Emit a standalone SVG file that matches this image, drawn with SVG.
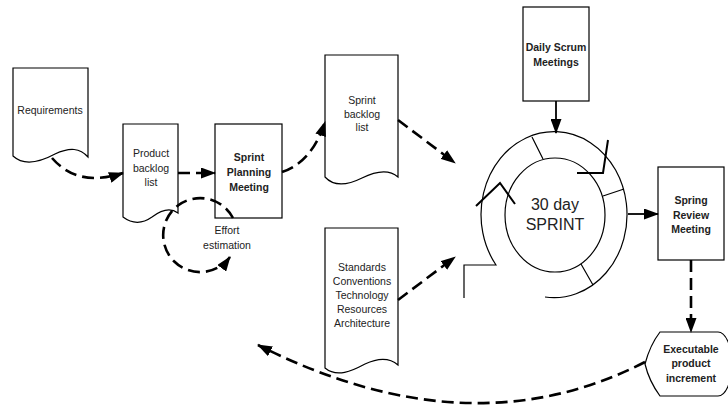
<svg xmlns="http://www.w3.org/2000/svg" width="728" height="407" viewBox="0 0 728 407">
<defs>
<style>
.shape{fill:#fff;stroke:#000;stroke-width:1.2}
.t{font-family:"Liberation Sans",Arial,sans-serif;font-size:10.5px;text-anchor:middle;fill:#222}
.b{font-weight:bold}
.big{font-size:16px}
.dash{fill:none;stroke:#000;stroke-width:2.6;stroke-dasharray:12 6}
.solid{fill:none;stroke:#000;stroke-width:1.8}
.ring{fill:none;stroke:#000;stroke-width:1.2}
.zig{fill:none;stroke:#000;stroke-width:2}
</style>
<marker id="ah" viewBox="0 0 15 11" refX="14" refY="5.5" markerWidth="15" markerHeight="11" markerUnits="userSpaceOnUse" orient="auto">
<path d="M0,0 L15,5.5 L0,11 Z" fill="#000"/>
</marker>
</defs>
<rect width="728" height="407" fill="#fff"/>

<g id="requirements">
<path class="shape" d="M13,68 H88 V157 C80,148 70,147 55,154 C42,161 25,167 13,156 Z"/>
<text class="t" x="50" y="114">Requirements</text>
</g>

<g id="product-backlog">
<path class="shape" d="M123,124 H178 V213 C170,207 160,211 152,217 C145,222 135,226 123,217 Z"/>
<text class="t" x="151" y="157">Product</text>
<text class="t" x="151" y="172">backlog</text>
<text class="t" x="151" y="186">list</text>
</g>

<g id="sprint-planning">
<rect class="shape" x="215" y="124" width="67" height="94"/>
<text class="t b" x="249" y="161">Sprint</text>
<text class="t b" x="249" y="176">Planning</text>
<text class="t b" x="249" y="191">Meeting</text>
</g>

<g id="effort-label">
<text class="t" x="227" y="234">Effort</text>
<text class="t" x="227" y="249">estimation</text>
</g>

<g id="sprint-backlog">
<path class="shape" d="M325,55 H398 V177 C390,170 378,170 362,178 C350,184 335,188 325,177 Z"/>
<text class="t" x="362" y="104">Sprint</text>
<text class="t" x="362" y="118">backlog</text>
<text class="t" x="362" y="131">list</text>
</g>

<g id="standards">
<path class="shape" d="M325,228 H398 V365 C390,358 380,357 365,364 C352,371 337,378 325,368 Z"/>
<text class="t" x="362" y="271">Standards</text>
<text class="t" x="362" y="285">Conventions</text>
<text class="t" x="362" y="299">Technology</text>
<text class="t" x="362" y="313">Resources</text>
<text class="t" x="362" y="327">Architecture</text>
</g>

<g id="daily-scrum">
<rect class="shape" x="523" y="7" width="66" height="94"/>
<text class="t b" x="556" y="51">Daily Scrum</text>
<text class="t b" x="556" y="66">Meetings</text>
</g>

<g id="sprint-cycle">
<path class="ring" d="M545,297 A73,83 0 1 0 496,265 H464 V298"/>
<ellipse class="ring" cx="555" cy="215" rx="50" ry="57"/>
<path class="ring" d="M532,137 L543,159 M603,196 L624,189 M581,264 L593,285"/>
<path class="zig" d="M608,140 L603,173 L577,173"/>
<path class="zig" d="M476,206 L500,183 L515,204"/>
<text class="t big" x="555" y="210">30 day</text>
<text class="t big" x="555" y="230">SPRINT</text>
</g>

<g id="spring-review">
<rect class="shape" x="658" y="167" width="66" height="93"/>
<text class="t b" x="691" y="204">Spring</text>
<text class="t b" x="691" y="219">Review</text>
<text class="t b" x="691" y="233">Meeting</text>
</g>

<g id="executable">
<path class="shape" d="M660,332 H718 A14,32 0 0 1 718,396 H660 Q649,381 645,364 Q650,345 660,332 Z"/>
<text class="t b" x="691" y="353">Executable</text>
<text class="t b" x="691" y="367">product</text>
<text class="t b" x="691" y="382">increment</text>
</g>

<g id="connectors">
<path class="dash" d="M52,158 Q78,188 123,173" marker-end="url(#ah)"/>
<path class="dash" d="M178,173 H215" marker-end="url(#ah)"/>
<path class="dash" d="M233,218 A37,37 0 1 0 230,257" marker-end="url(#ah)"/>
<path class="dash" d="M282,172 Q312,162 325,122" marker-end="url(#ah)"/>
<path class="dash" d="M398,120 L455,163" marker-end="url(#ah)"/>
<path class="dash" d="M398,300 L455,257" marker-end="url(#ah)"/>
<path class="solid" d="M556,101 V133" marker-end="url(#ah)"/>
<path class="solid" d="M628,214 H658" marker-end="url(#ah)"/>
<path class="dash" d="M691,260 V332" marker-end="url(#ah)"/>
<path class="dash" d="M645,362 Q470,452 258,345" marker-end="url(#ah)"/>
</g>
</svg>
